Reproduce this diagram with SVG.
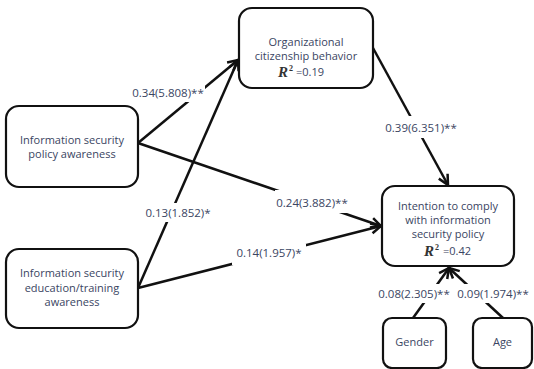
<svg xmlns="http://www.w3.org/2000/svg" width="534" height="369" viewBox="0 0 534 369">
<style>
.box{fill:#fff;stroke:#111;stroke-width:2.2}
.t{font-family:"Open Sans","Noto Sans",sans-serif;font-size:11px;fill:#3a4562;text-anchor:middle}
.lb{font-family:"Open Sans","Noto Sans",sans-serif;font-size:11.5px;fill:#3a4562;text-anchor:middle}
.r{font-family:"Liberation Serif",serif;font-style:italic;font-weight:bold;font-size:15px;fill:#333}
.sup{font-family:"Liberation Serif",serif;font-weight:bold;font-size:8px;fill:#333}
.ln{stroke:#111;stroke-width:2.5;fill:none;marker-end:url(#ah)}
.bg{fill:#fff}
</style>
<defs>
<marker id="ah" markerUnits="userSpaceOnUse" markerWidth="14" markerHeight="14" refX="11" refY="6" orient="auto" viewBox="0 0 14 12">
<path d="M1,1 L11,6 L1,11" fill="none" stroke="#111" stroke-width="2.5"/>
</marker>
</defs>
<g id="connectors">
<line class="ln" x1="138" y1="143" x2="238" y2="60"/>
<line class="ln" x1="138" y1="288" x2="238" y2="60"/>
<line class="ln" x1="138" y1="143" x2="381" y2="226"/>
<line class="ln" x1="138" y1="288" x2="381" y2="226"/>
<line class="ln" x1="373" y1="48" x2="448" y2="185"/>
<line class="ln" x1="413" y1="318" x2="449" y2="268"/>
<line class="ln" x1="503" y1="318" x2="449" y2="268"/>
<rect class="bg" x="131" y="85" width="74" height="17"/>
<text class="lb" x="168" y="97">0.34(5.808)**</text>
<rect class="bg" x="383" y="116" width="76" height="22"/>
<text class="lb" x="421" y="132">0.39(6.351)**</text>
<rect class="bg" x="141" y="203" width="74" height="19"/>
<text class="lb" x="178" y="217">0.13(1.852)*</text>
<rect class="bg" x="275" y="190" width="74" height="23"/>
<text class="lb" x="312" y="207">0.24(3.882)**</text>
<rect class="bg" x="232" y="244" width="74" height="21"/>
<text class="lb" x="269" y="257">0.14(1.957)*</text>
<rect class="bg" x="376" y="284" width="76" height="19"/>
<text class="lb" x="414" y="298">0.08(2.305)**</text>
<rect class="bg" x="456" y="284" width="76" height="19"/>
<text class="lb" x="493" y="298">0.09(1.974)**</text>
</g>
<g id="ocb">
<rect class="box" x="239" y="8" width="134" height="80" rx="13"/>
<text class="t" x="306" y="46">Organizational</text>
<text class="t" x="306" y="60">citizenship behavior</text>
<text class="r" x="278" y="77">R</text><text class="sup" x="289" y="71">2</text>
<text class="t" x="310" y="76">=0.19</text>
</g>
<g id="policy">
<rect class="box" x="6" y="106" width="132" height="81" rx="13"/>
<text class="t" x="72" y="144">Information security</text>
<text class="t" x="72" y="158">policy awareness</text>
</g>
<g id="education">
<rect class="box" x="6" y="249" width="132" height="79" rx="13"/>
<text class="t" x="72" y="277">Information security</text>
<text class="t" x="72" y="292">education/training</text>
<text class="t" x="72" y="306">awareness</text>
</g>
<g id="intention">
<rect class="box" x="382" y="186" width="132" height="80" rx="13"/>
<text class="t" x="448" y="210">Intention to comply</text>
<text class="t" x="448" y="224">with information</text>
<text class="t" x="448" y="238">security policy</text>
<text class="r" x="424" y="256">R</text><text class="sup" x="435" y="250">2</text>
<text class="t" x="457" y="255">=0.42</text>
</g>
<g id="gender">
<rect class="box" x="383" y="318" width="63" height="50" rx="9"/>
<text class="t" x="414.5" y="346">Gender</text>
</g>
<g id="age">
<rect class="box" x="473" y="318" width="59" height="50" rx="9"/>
<text class="t" x="502.5" y="346">Age</text>
</g>
</svg>
